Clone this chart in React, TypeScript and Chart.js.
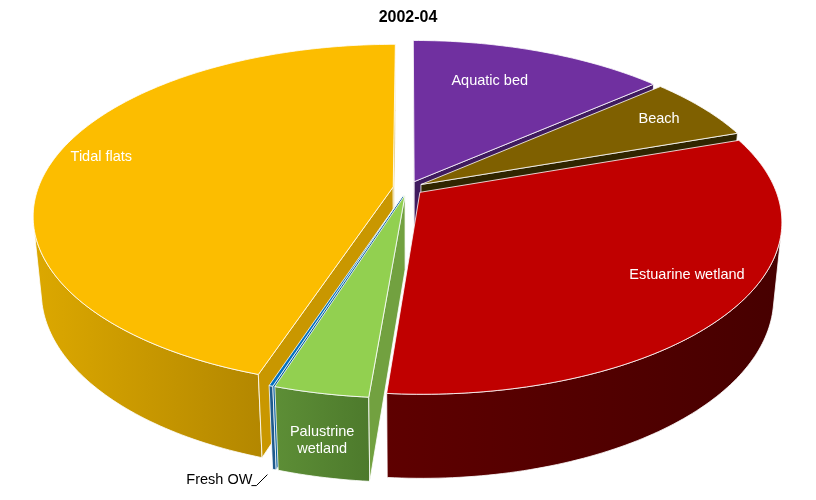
import React, { useEffect, useRef } from "react";
import { Chart, registerables } from "chart.js";

Chart.register(...registerables);

// share of area per cover class, %
const categories = ["Aquatic bed", "Beach", "Estuarine wetland", "Palustrine wetland", "Fresh OW", "Tidal flats"];
const shares = [13.6, 6.1, 31.6, 3.6, 0.15, 44.9];

const topColors = ["#7030A0", "#7F6000", "#C00000", "#92D050", "#0070C0", "#FCBD00"];
// outer wall gradient, left -> right
const wallColors = [
  ["#4A2270", "#3A1A58"],
  ["#4A3800", "#3A2C00"],
  ["#5E0000", "#470000"],
  ["#5D8E36", "#4D7A2C"],
  ["#1F5A8C", "#1F5A8C"],
  ["#DCA800", "#B38700"],
];
const cutColors = ["#3F1B5E", "#2F2500", "#600000", "#72A140", "#005A9A", "#C99700"];
// r = fraction of radius, da = nudge off the mid angle (deg)
const labelPlacement = [
  { mode: "top", r: 0.72, da: -5 },
  { mode: "top", r: 0.84, da: -0.5 },
  { mode: "top", r: 0.825, da: -4.6 },
  { mode: "wall", r: 0.55, da: 0 },
  { mode: "leader", r: 1, da: 0 },
  { mode: "top", r: 0.87, da: 3.2 },
];

// fake 3D camera for the tilted pie
const GEO = { cy: 180, radius: 355, depth: 86, tilt: (28 * Math.PI) / 180, dist: 1881, explode: 15 };
const FONT = '14.5px "Liberation Sans", Arial, sans-serif';

const pie3d = {
  id: "pie3d",
  beforeDatasetsDraw(chart: any) {
    const ctx: CanvasRenderingContext2D = chart.ctx;
    const arcs = chart.getDatasetMeta(0).data;
    const cx = (chart.chartArea.left + chart.chartArea.right) / 2;
    const sinA = Math.sin(GEO.tilt);
    const cosA = Math.cos(GEO.tilt);
    const camV = GEO.dist * cosA;
    const R = GEO.radius;
    const H = GEO.depth;

    const project = (u: number, v: number, h: number) => {
      const yc = v * sinA - h * cosA;
      const zc = v * cosA + h * sinA;
      const s = GEO.dist / (GEO.dist - zc);
      return { x: cx + s * u, y: GEO.cy + s * yc, z: zc };
    };
    const facing = (nu: number, nv: number, pu: number, pv: number) => nu * -pu + nv * (camV - pv) > 0;

    const slices = arcs.map((arc: any, i: number) => {
      const { startAngle, endAngle } = arc.getProps(["startAngle", "endAngle"], true);
      const a0 = startAngle + Math.PI / 2;
      const a1 = endAngle + Math.PI / 2;
      const mid = (a0 + a1) / 2;
      const ou = GEO.explode * Math.sin(mid);
      const ov = -GEO.explode * Math.cos(mid);
      const rim = (a: number, r = R) => [ou + r * Math.sin(a), ov - r * Math.cos(a)];
      const c = rim(mid, R * 0.6);
      return { i, a0, a1, mid, ou, ov, rim, depth: project(c[0], c[1], -H / 2).z };
    });

    const poly = (pts: { x: number; y: number }[], fill: string | CanvasGradient) => {
      ctx.beginPath();
      pts.forEach((p, k) => (k ? ctx.lineTo(p.x, p.y) : ctx.moveTo(p.x, p.y)));
      ctx.closePath();
      ctx.fillStyle = fill;
      ctx.fill();
      ctx.stroke();
    };

    ctx.save();
    ctx.strokeStyle = "#ffffff";
    ctx.lineWidth = 0.8;
    ctx.lineJoin = "round";

    [...slices].sort((p, q) => p.depth - q.depth).forEach((sl) => {
      const { i, a0, a1, ou, ov, rim } = sl;
      const steps = Math.max(2, Math.ceil((a1 - a0) / (Math.PI / 180)));
      const angles = Array.from({ length: steps + 1 }, (_, k) => a0 + ((a1 - a0) * k) / steps);

      // outer wall, only the runs that face the camera
      let run: number[] = [];
      const flush = () => {
        if (run.length > 1) {
          const top = run.map((a) => { const [u, v] = rim(a); return project(u, v, 0); });
          const bot = run.map((a) => { const [u, v] = rim(a); return project(u, v, -H); }).reverse();
          const pts = [...top, ...bot];
          const xs = pts.map((p) => p.x);
          const g = ctx.createLinearGradient(Math.min(...xs), 0, Math.max(...xs), 0);
          g.addColorStop(0, wallColors[i][0]);
          g.addColorStop(1, wallColors[i][1]);
          poly(pts, g);
        }
        run = [];
      };
      angles.forEach((a) => {
        const [u, v] = rim(a);
        if (facing(Math.sin(a), -Math.cos(a), u, v)) run.push(a);
        else flush();
      });
      flush();

      // cut faces at the slice edges
      const cut = (a: number, sign: number) => {
        const [mu, mv] = rim(a, R * 0.5);
        if (!facing(sign * Math.cos(a), sign * Math.sin(a), mu, mv)) return;
        const [u, v] = rim(a);
        poly([project(ou, ov, 0), project(u, v, 0), project(u, v, -H), project(ou, ov, -H)], cutColors[i]);
      };
      cut(a0, -1);
      cut(a1, 1);

      // top face
      const topPts = [project(ou, ov, 0), ...angles.map((a) => { const [u, v] = rim(a); return project(u, v, 0); })];
      poly(topPts, topColors[i]);
    });

    // labels
    ctx.font = FONT;
    ctx.textAlign = "center";
    ctx.textBaseline = "middle";
    slices.forEach((sl) => {
      const place = labelPlacement[sl.i];
      const text = chart.data.labels[sl.i] as string;
      const a = sl.mid + (place.da * Math.PI) / 180;
      if (place.mode === "top") {
        const [u, v] = sl.rim(a, R * place.r);
        const p = project(u, v, 0);
        ctx.fillStyle = "#ffffff";
        ctx.fillText(text, p.x, p.y);
      } else if (place.mode === "wall") {
        const [u, v] = sl.rim(a);
        const p = project(u, v, -H * place.r);
        const lines = text.split(" ");
        ctx.fillStyle = "#ffffff";
        lines.forEach((ln, k) => ctx.fillText(ln, p.x, p.y + (k - (lines.length - 1) / 2) * 17));
      } else {
        const [u, v] = sl.rim(a);
        const p = project(u, v, -H);
        ctx.strokeStyle = "#000000";
        ctx.lineWidth = 1;
        ctx.beginPath();
        ctx.moveTo(p.x - 23, p.y + 16);
        ctx.lineTo(p.x - 18, p.y + 16);
        ctx.lineTo(p.x - 7, p.y + 5);
        ctx.stroke();
        ctx.fillStyle = "#000000";
        ctx.textAlign = "right";
        ctx.fillText(text, p.x - 22, p.y + 10);
        ctx.textAlign = "center";
      }
    });
    ctx.restore();
    return false;
  },
};

export default function App() {
  const canvasRef = useRef<HTMLCanvasElement | null>(null);

  useEffect(() => {
    let chart: Chart | null = null;
    if (canvasRef.current) {
      chart = new Chart(canvasRef.current, {
        type: "pie",
        data: {
          labels: categories,
          datasets: [{ data: shares, backgroundColor: topColors, borderColor: "#ffffff" }],
        },
        options: {
          animation: false,
          responsive: true,
          maintainAspectRatio: false,
          events: [],
          plugins: {
            legend: { display: false },
            tooltip: { enabled: false },
            title: {
              display: true,
              text: "2002-04",
              color: "#000000",
              font: { family: '"Liberation Sans", Arial, sans-serif', size: 16, weight: "bold" },
              padding: { top: 0, bottom: 6 },
            },
          },
        },
        plugins: [pie3d],
      });
    }
    return () => {
      if (chart) chart.destroy();
    };
  }, []);

  return (
    <div style={{ width: 800, height: 484 }}>
      <canvas ref={canvasRef} />
    </div>
  );
}
